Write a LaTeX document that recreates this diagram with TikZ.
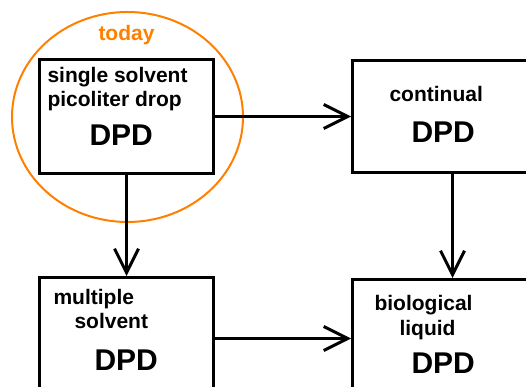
\documentclass[tikz,border=0pt]{standalone}
\usepackage{fontspec}
\setmainfont{Liberation Sans}
\usetikzlibrary{shapes,arrows.meta}
\definecolor{todayorange}{RGB}{255,128,0}

\begin{document}
\begin{tikzpicture}
[
  x=1pt, y=-1pt,
  box/.style={rectangle, draw, line width=3pt, anchor=north west, inner sep=0pt},
  txt/.style={anchor=base west, inner sep=0pt, font=\fontsize{21}{23}\selectfont\bfseries},
  big/.style={anchor=base west, inner sep=0pt, font=\fontsize{30}{32}\selectfont\bfseries},
  >={Straight Barb[length=24pt,width=24pt]},
  line width=3pt
]
 \useasboundingbox (0,0) rectangle (526,387);

 % circle round the present state
 \node[ellipse, draw=todayorange, line width=2pt, inner sep=0pt,
       minimum width=231pt, minimum height=210pt] (ring) at (127.5,117) {};
 \node[txt, text=todayorange] (now) at (97,41) {today};

 \node[box, minimum width=174pt, minimum height=114pt] (b0) at (38,58) {};
 \node[box, minimum width=200pt, minimum height=112pt] (b1) at (351,59) {};
 \node[box, minimum width=174pt, minimum height=122pt] (b2) at (38,276) {};
 \node[box, minimum width=200pt, minimum height=118pt] (b3) at (351,278) {};

 \node[txt] (t0a) at (46,83) {single solvent};
 \node[txt] (t0b) at (46,107) {picoliter drop};
 \node[big] (t0c) at (88,146) {DPD};

 \node[txt] (t1a) at (388,102) {continual};
 \node[big] (t1c) at (410,143) {DPD};

 \node[txt] (t2a) at (52,304) {multiple};
 \node[txt] (t2b) at (73,328) {solvent};
 \node[big] (t2c) at (93,370) {DPD};

 \node[txt] (t3a) at (373,310) {biological};
 \node[txt] (t3b) at (398,335) {liquid};
 \node[big] (t3c) at (410,373) {DPD};

  \path[->]
    (b0) edge (b1)
    (b0) edge (b2)
    (b1) edge (b3)
    (b2) edge (b3);
\end{tikzpicture}
\end{document}
